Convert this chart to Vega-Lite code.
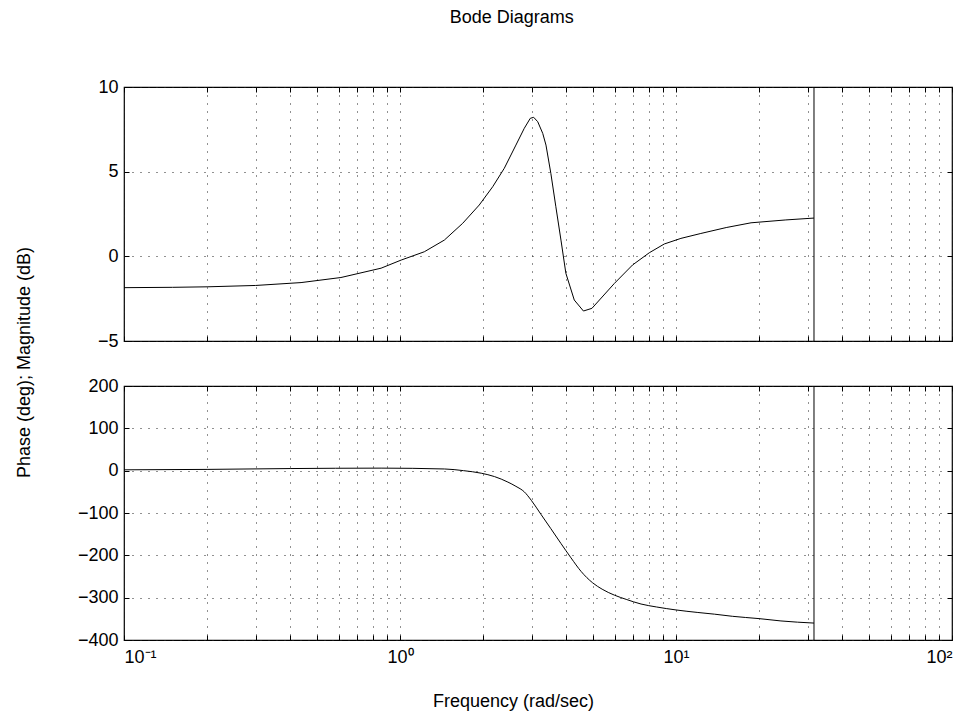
{
  "$schema": "https://vega.github.io/schema/vega-lite/v6.json",
  "background": "white",
  "padding": {"left": 14, "top": 9, "right": 5, "bottom": 2},
  "bounds": "flush",
  "spacing": 45,
  "title": {"text": "Bode Diagrams", "fontSize": 18, "font": "Liberation Sans", "fontWeight": "normal", "anchor": "middle", "dx": 28, "offset": 50, "color": "black"},
  "config": {
    "font": "Liberation Sans",
    "view": {"stroke": "black", "strokeWidth": 1.2},
    "axis": {"labelFont": "Liberation Sans", "labelFontSize": 18, "labelColor": "black", "titleFont": "Liberation Sans", "titleFontSize": 18, "titleFontWeight": "normal", "titleColor": "black", "domain": false, "tickColor": "black", "tickSize": -5, "gridColor": "#222", "gridDash": [1, 7], "gridWidth": 1, "gridOpacity": 1, "labelOverlap": false}
  },
  "datasets": {
    "mag": [
      {"f": 0.1, "db": -1.85}, {"f": 0.15, "db": -1.83}, {"f": 0.2, "db": -1.8}, {"f": 0.3, "db": -1.72},
      {"f": 0.438, "db": -1.55}, {"f": 0.611, "db": -1.25}, {"f": 0.854, "db": -0.7}, {"f": 1.01, "db": -0.22},
      {"f": 1.225, "db": 0.27}, {"f": 1.448, "db": 0.96}, {"f": 1.687, "db": 1.95}, {"f": 1.937, "db": 3.03},
      {"f": 2.167, "db": 4.11}, {"f": 2.387, "db": 5.2}, {"f": 2.63, "db": 6.57}, {"f": 2.82, "db": 7.56},
      {"f": 2.965, "db": 8.15}, {"f": 3.05, "db": 8.21}, {"f": 3.155, "db": 7.95}, {"f": 3.29, "db": 7.26},
      {"f": 3.38, "db": 6.57}, {"f": 3.52, "db": 4.9}, {"f": 3.67, "db": 2.93}, {"f": 3.83, "db": 0.96},
      {"f": 3.99, "db": -1.0}, {"f": 4.28, "db": -2.58}, {"f": 4.62, "db": -3.23}, {"f": 4.96, "db": -3.07},
      {"f": 5.98, "db": -1.6}, {"f": 6.96, "db": -0.51}, {"f": 8.0, "db": 0.21}, {"f": 9.07, "db": 0.73},
      {"f": 10.42, "db": 1.06}, {"f": 12.3, "db": 1.35}, {"f": 15.2, "db": 1.7}, {"f": 18.7, "db": 1.98},
      {"f": 25, "db": 2.15}, {"f": 31.62, "db": 2.26}
    ],
    "phase": [
      {"f": 0.1, "deg": 2}, {"f": 0.2, "deg": 3}, {"f": 0.4, "deg": 5}, {"f": 0.854, "deg": 6},
      {"f": 1.45, "deg": 4}, {"f": 1.7, "deg": 0}, {"f": 1.97, "deg": -6}, {"f": 2.2, "deg": -14}, {"f": 2.46, "deg": -27},
      {"f": 2.63, "deg": -37}, {"f": 2.82, "deg": -50}, {"f": 2.99, "deg": -70}, {"f": 3.24, "deg": -103},
      {"f": 3.52, "deg": -137}, {"f": 3.83, "deg": -172}, {"f": 4.165, "deg": -206}, {"f": 4.53, "deg": -238},
      {"f": 4.99, "deg": -265}, {"f": 5.4, "deg": -280},
      {"f": 5.98, "deg": -294}, {"f": 6.6, "deg": -304}, {"f": 7.47, "deg": -315}, {"f": 8.5, "deg": -322},
      {"f": 10, "deg": -329}, {"f": 12, "deg": -335}, {"f": 13.8, "deg": -339}, {"f": 16, "deg": -344},
      {"f": 20, "deg": -349.5}, {"f": 24, "deg": -355}, {"f": 31.62, "deg": -360}
    ],
    "cut": [{"f": 31.62}]
  },
  "vconcat": [
    {
      "width": 828,
      "height": 254,
      "resolve": {"axis": {"x": "independent", "y": "independent"}},
      "layer": [
        {
          "data": {"name": "mag"},
          "mark": {"type": "line", "color": "black", "strokeWidth": 1},
          "encoding": {
            "x": {"field": "f", "type": "quantitative", "scale": {"type": "log", "domain": [0.1, 100], "nice": false},
              "axis": {"orient": "bottom", "values": [0.1,0.2,0.3,0.4,0.5,0.6,0.7,0.8,0.9,1,2,3,4,5,6,7,8,9,10,20,30,40,50,60,70,80,90,100], "labels": false, "grid": true, "title": null}},
            "y": {"field": "db", "type": "quantitative", "scale": {"domain": [-5, 10], "nice": false, "zero": false},
              "axis": {"orient": "left", "values": [-5, 0, 5, 10], "grid": true, "labelPadding": 11,
                "title": "Phase (deg); Magnitude (dB)", "titleX": -95, "titleY": 275, "titleBaseline": "alphabetic", "titleAngle": -90, "titleAlign": "center"}}
          }
        },
        {
          "data": {"name": "cut"},
          "mark": {"type": "rule", "color": "black", "strokeWidth": 1},
          "encoding": {
            "x": {"field": "f", "type": "quantitative",
              "axis": {"orient": "top", "values": [0.1,0.2,0.3,0.4,0.5,0.6,0.7,0.8,0.9,1,2,3,4,5,6,7,8,9,10,20,30,40,50,60,70,80,90,100], "labels": false, "grid": false, "title": null}},
            "y": {"datum": -5, "type": "quantitative", "axis": {"orient": "right", "values": [-5, 0, 5, 10], "labels": false, "grid": false, "title": null}},
            "y2": {"datum": 10}
          }
        }
      ]
    },
    {
      "width": 828,
      "height": 254,
      "resolve": {"axis": {"x": "independent", "y": "independent"}},
      "layer": [
        {
          "data": {"name": "phase"},
          "mark": {"type": "line", "color": "black", "strokeWidth": 1, "interpolate": "monotone"},
          "encoding": {
            "x": {"field": "f", "type": "quantitative", "scale": {"type": "log", "domain": [0.1, 100], "nice": false},
              "axis": {"orient": "bottom", "values": [0.1,0.2,0.3,0.4,0.5,0.6,0.7,0.8,0.9,1,2,3,4,5,6,7,8,9,10,20,30,40,50,60,70,80,90,100], "grid": true, "labelPadding": 13,
                "labelExpr": "datum.value == 0.1 ? '10⁻¹' : datum.value == 1 ? '10⁰' : datum.value == 10 ? '10¹' : datum.value == 100 ? '10²' : ''",
                "title": "Frequency (rad/sec)", "titleX": 389, "titleY": 66, "titleBaseline": "alphabetic", "titleAlign": "center"}},
            "y": {"field": "deg", "type": "quantitative", "scale": {"domain": [-400, 200], "nice": false, "zero": false},
              "axis": {"orient": "left", "values": [-400, -300, -200, -100, 0, 100, 200], "grid": true, "labelPadding": 11, "title": null}}
          }
        },
        {
          "data": {"name": "cut"},
          "mark": {"type": "rule", "color": "black", "strokeWidth": 1},
          "encoding": {
            "x": {"field": "f", "type": "quantitative",
              "axis": {"orient": "top", "values": [0.1,0.2,0.3,0.4,0.5,0.6,0.7,0.8,0.9,1,2,3,4,5,6,7,8,9,10,20,30,40,50,60,70,80,90,100], "labels": false, "grid": false, "title": null}},
            "y": {"datum": -400, "type": "quantitative", "axis": {"orient": "right", "values": [-400, -300, -200, -100, 0, 100, 200], "labels": false, "grid": false, "title": null}},
            "y2": {"datum": 200}
          }
        }
      ]
    }
  ]
}
